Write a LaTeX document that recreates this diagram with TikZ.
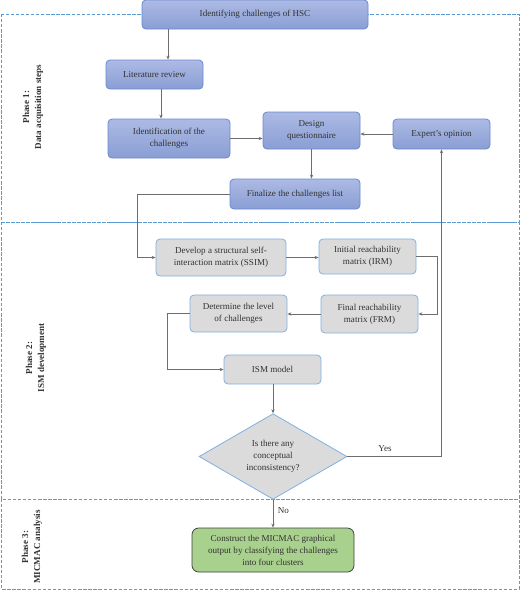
\documentclass[tikz,border=0pt]{standalone}
\usepackage{fontspec}
\setmainfont{Liberation Serif}
\usetikzlibrary{arrows.meta,shapes.geometric}
\definecolor{frameblue}{RGB}{91,155,213}
\definecolor{boxtop}{RGB}{172,186,228}
\definecolor{boxbot}{RGB}{138,158,212}
\definecolor{boxline}{RGB}{104,136,206}
\definecolor{greyfill}{RGB}{219,219,219}
\definecolor{greyline}{RGB}{128,176,226}
\definecolor{greenfill}{RGB}{169,209,142}
\definecolor{linkgrey}{RGB}{110,110,110}
\tikzset{
  bluebox/.style={draw=boxline, line width=0.6pt, rounded corners=3pt, top color=boxtop, bottom color=boxbot, align=center, inner sep=1pt},
  greybox/.style={draw=greyline, line width=0.6pt, rounded corners=3pt, fill=greyfill, align=center, inner sep=1pt},
  phaselabel/.style={rotate=90, align=center, font=\fontsize{6.8}{9}\selectfont\bfseries},
  link/.style={draw=linkgrey, line width=0.6pt, -{Stealth[length=3pt,width=2.5pt]}},
  phaseframe/.style={draw=frameblue, line width=0.7pt, dash pattern=on 2.5pt off 1.3pt}
}
\begin{document}
\begin{tikzpicture}[x=0.75pt, y=-0.75pt, font=\fontsize{6.8}{9}\selectfont, text=black!80]
			%%%%% START %%%%%
			\useasboundingbox (0, 0) rectangle (520, 590);
			
			\draw[phaseframe] (1, 14) rectangle (519, 222);
			\draw[phaseframe] (1, 222) rectangle (519, 499);
			\draw[phaseframe] (1, 499) rectangle (519, 589);
			
			\node[phaselabel] (phaseA) at (33, 107) {Phase 1:\\Data acquisition steps};
			\node[phaselabel] (phaseB) at (36, 358) {Phase 2:\\ISM development};
			\node[phaselabel] (phaseC) at (32, 547) {Phase 3:\\MICMAC analysis};
			
			\node[bluebox, minimum width=169.5pt, minimum height=21.75pt] (hsc) at (255, 14.5) {Identifying challenges of HSC};
			\node[bluebox, minimum width=72.75pt, minimum height=21.75pt] (lit) at (154.5, 74.5) {Literature review};
			\node[bluebox, minimum width=91.5pt, minimum height=29.25pt] (ident) at (169, 138.5) {Identification of the\\challenges};
			\node[bluebox, minimum width=72.75pt, minimum height=27.75pt] (design) at (311.5, 130.5) {Design\\questionnaire};
			\node[bluebox, minimum width=72.75pt, minimum height=22.5pt] (expert) at (441.5, 134) {Expert's opinion};
			\node[bluebox, minimum width=97.5pt, minimum height=22.5pt] (final) at (295, 194) {Finalize the challenges list};
			
			\node[greybox, minimum width=97.5pt, minimum height=27.75pt] (ssim) at (221, 257.5) {Develop a structural self-\\interaction matrix (SSIM)};
			\node[greybox, minimum width=72.75pt, minimum height=26.25pt] (irm) at (367.5, 256.5) {Initial reachability\\matrix (IRM)};
			\node[greybox, minimum width=72.75pt, minimum height=28.5pt] (frm) at (369.5, 314) {Final reachability\\matrix (FRM)};
			\node[greybox, minimum width=72.75pt, minimum height=27.75pt] (level) at (238.5, 313.5) {Determine the level\\of challenges};
			\node[greybox, minimum width=72.75pt, minimum height=21.75pt] (ism) at (272.5, 369.5) {ISM model};
			\node[diamond, draw=greyline, line width=0.6pt, fill=greyfill, inner sep=0pt, minimum width=111pt, minimum height=62.25pt, align=center] (check) at (273, 456.5) {Is there any\\conceptual\\inconsistency?};
			
			\node[draw=black!75, line width=0.6pt, rounded corners=5pt, fill=greenfill, align=center, minimum width=121.5pt, minimum height=33pt] (micmac) at (273, 550) {Construct the MICMAC graphical\\output by classifying the challenges\\into four clusters};
			
			\coordinate (fbend) at (137, 194);
			\coordinate (ibend) at (437, 256.5);
			\coordinate (lbend) at (167, 313.5);
			
			\draw[link] (hsc.south -| 168, 0) -- (lit.north -| 168, 0);
			\draw[link] (lit.south -| 161, 0) -- (ident.north -| 161, 0);
			\draw[link] (ident.east) -- (design.west |- ident.east);
			\draw[link] (expert.west) -- (design.east |- expert.west);
			\draw[link] (design.south) -- (final.north -| design.south);
			\draw[link] (final.west) -- (fbend) |- (ssim.west);
			\draw[link] (ssim.east) -- (irm.west |- ssim.east);
			\draw[link] (irm.east) -- (ibend) |- (frm.east);
			\draw[link] (frm.west) -- (level.east |- frm.west);
			\draw[link] (level.west) -- (lbend) |- (ism.west);
			\draw[link] (ism.south -| check.north) -- (check.north);
			\draw[link] (check.east) -| node[pos=0.2, above] {Yes} (expert.south);
			\draw[link] (check.south) -- node[right, pos=0.4] {No} (micmac.north);
			
			%%%%% END %%%%%
		\end{tikzpicture}
\end{document}
